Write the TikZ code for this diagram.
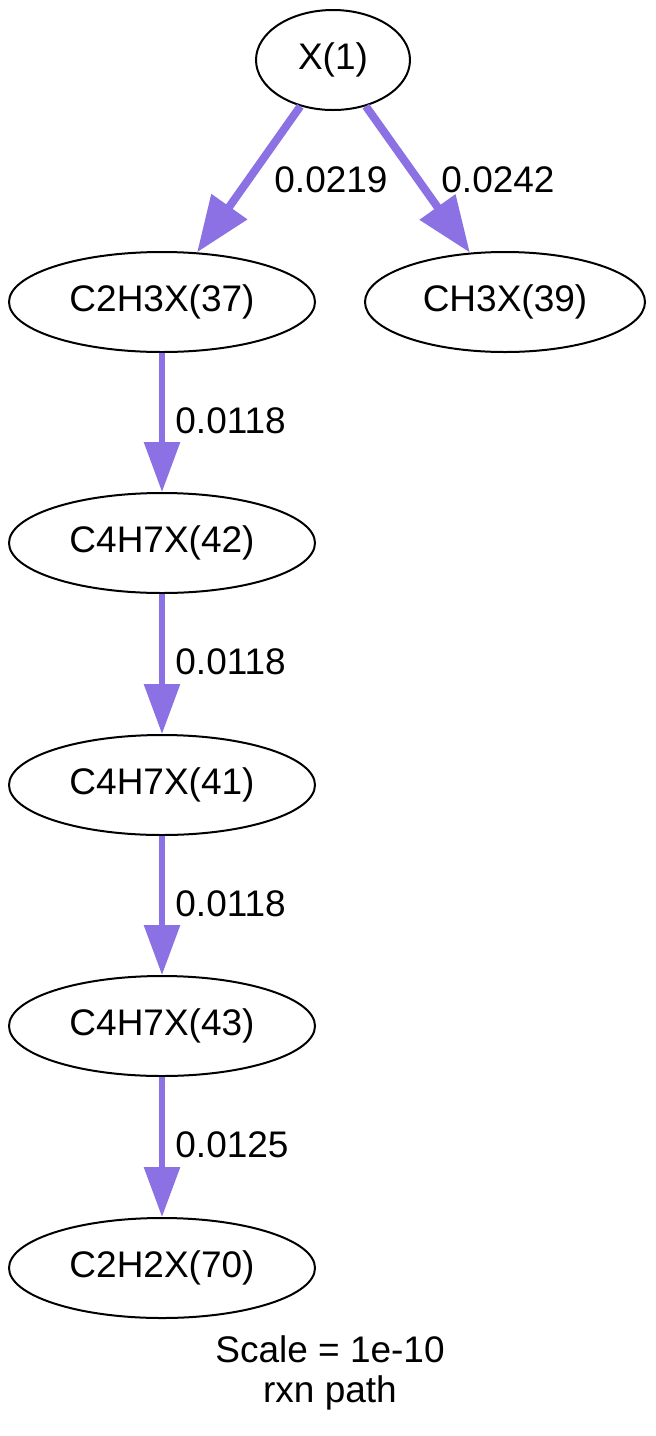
\documentclass[tikz,border=0pt]{standalone}
\usepackage{fontspec}
\setmainfont{Liberation Sans}
\usepackage{xcolor}
\usepackage{tikz}
\usetikzlibrary{arrows.meta}
\usetikzlibrary{shapes.geometric}
\definecolor{rxnpurple}{HTML}{8B71E3}

\begin{document}
\begin{tikzpicture}[x=0.5pt, y=-0.5pt, inner sep=1pt,
    font=\fontsize{18.5pt}{22pt}\selectfont,
    spec/.style={draw, ellipse, line width=1pt, minimum height=50pt},
    flux/.style={rxnpurple, line width=3pt, -{Triangle[length=25pt, width=17.5pt]}},
    bigflux/.style={rxnpurple, line width=4pt, -{Triangle[length=28pt, width=21pt]}},
    lbl/.style={anchor=base west}]
    \useasboundingbox (0,0) rectangle (655,1436);
    \node[spec, minimum width=77pt]  (x1)     at (333,60)   {X(1)};
    \node[spec, minimum width=153pt] (c2h3x)  at (162,302)  {C2H3X(37)};
    \node[spec, minimum width=140pt] (ch3x)   at (505,302)  {CH3X(39)};
    \node[spec, minimum width=153pt] (c4h7xa) at (162,543)  {C4H7X(42)};
    \node[spec, minimum width=153pt] (c4h7xb) at (162,785)  {C4H7X(41)};
    \node[spec, minimum width=153pt] (c4h7xc) at (162,1026) {C4H7X(43)};
    \node[spec, minimum width=153pt] (c2h2x)  at (162,1268) {C2H2X(70)};
    \draw[bigflux] (x1) -- (c2h3x);
    \node[lbl] (f1) at (272,192) {0.0219};
    \draw[bigflux] (x1) -- (ch3x);
    \node[lbl] (f2) at (439,192) {0.0242};
    \draw[flux] (c2h3x) -- (c4h7xa);
    \node[lbl] (f3) at (173,433) {0.0118};
    \draw[flux] (c4h7xa) -- (c4h7xb);
    \node[lbl] (f4) at (173,674.5) {0.0118};
    \draw[flux] (c4h7xb) -- (c4h7xc);
    \node[lbl] (f5) at (173,916) {0.0118};
    \draw[flux] (c4h7xc) -- (c2h2x);
    \node[lbl] (f6) at (173,1157.5) {0.0125};
    \node[anchor=base] (scale) at (330,1362) {Scale = 1e-10};
    \node[anchor=base] (rxn)   at (330,1402) {rxn path};
  \end{tikzpicture}
\end{document}
